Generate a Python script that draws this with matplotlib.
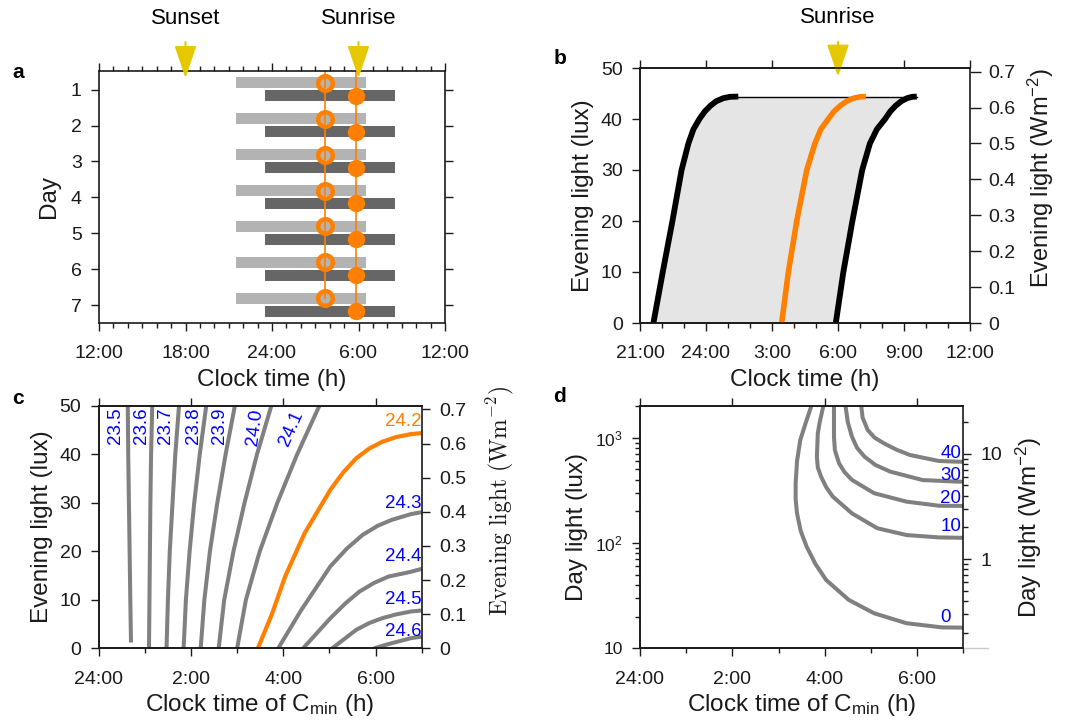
import numpy as np
import matplotlib
matplotlib.use('Agg')
import matplotlib.pyplot as plt
from matplotlib.ticker import MultipleLocator, FixedLocator, NullLocator, NullFormatter, FixedFormatter
import matplotlib.transforms as mtransforms

plt.rcParams['font.family'] = ['Liberation Sans', 'DejaVu Sans']
plt.rcParams['mathtext.fontset'] = 'custom'
plt.rcParams['mathtext.rm'] = 'Liberation Sans'
plt.rcParams['mathtext.it'] = 'Liberation Sans:italic'
plt.rcParams['mathtext.bf'] = 'Liberation Sans:bold'

ORANGE = '#ff7f00'
YELLOW = '#e5c800'
GRAY = '#808080'
BLUE = '#0000ff'
INK = '#1a1a1a'
LUX_PER_WM2 = 70.4
TICK_FS = 14
LABEL_FS = 17.5

# ---------------- Panel a data (clock hours, 24 = midnight) ----------------
days = [1, 2, 3, 4, 5, 6, 7]
light_sleep_start = [21.5, 21.5, 21.5, 21.5, 21.5, 21.5, 21.5]
light_sleep_end = [30.5, 30.5, 30.5, 30.5, 30.5, 30.5, 30.5]
dark_sleep_start = [23.5, 23.5, 23.5, 23.5, 23.5, 23.5, 23.5]
dark_sleep_end = [32.5, 32.5, 32.5, 32.5, 32.5, 32.5, 32.5]
cmin_open = [27.67, 27.67, 27.67, 27.67, 27.67, 27.67, 27.67]
cmin_filled = [29.8, 29.8, 29.8, 29.8, 29.8, 29.8, 29.8]
a_ticks = [12, 18, 24, 30, 36]
a_ticklabels = ['12:00', '18:00', '24:00', '6:00', '12:00']
sunset_a = 18
sunrise_a = 30

# ---------------- Panel b data ----------------
b_lux = [0, 9.9, 19.9, 30, 35.2, 38.0, 40, 41.5, 42.6, 43.5, 44.1, 44.35, 44.4]
b_early = [21.61, 22.03, 22.47, 22.89, 23.2, 23.43, 23.7, 23.95, 24.2, 24.47, 24.8, 25.1, 25.47]
b_mid = [27.44, 27.74, 28.12, 28.58, 28.95, 29.22, 29.56, 29.82, 30.1, 30.4, 30.72, 31.0, 31.27]
b_late = [29.9, 30.24, 30.65, 31.1, 31.45, 31.77, 32.14, 32.38, 32.62, 32.88, 33.15, 33.38, 33.58]
b_ticks = [21, 24, 27, 30, 33, 36]
b_ticklabels = ['21:00', '24:00', '3:00', '6:00', '9:00', '12:00']
sunrise_b = 30

# ---------------- Panel c data (hours after midnight, lux) ----------------
c_lux_std = [0, 10, 20, 30, 40, 50]
c_t_235 = [0.70, 0.685, 0.67, 0.655, 0.64, 0.63]
c_lux_235 = [1.2, 10, 20, 30, 40, 50]
c_t_236 = [1.09, 1.10, 1.11, 1.12, 1.135, 1.16]
c_t_237 = [1.47, 1.50, 1.54, 1.60, 1.66, 1.74]
c_t_238 = [1.84, 1.89, 1.97, 2.07, 2.19, 2.33]
c_t_239 = [2.21, 2.29, 2.41, 2.57, 2.75, 2.95]
c_t_240 = [2.60, 2.72, 2.92, 3.16, 3.43, 3.74]
c_t_241 = [3.00, 3.19, 3.49, 3.87, 4.30, 4.78]
c_t_242 = [3.45, 3.76, 4.04, 4.46, 5.02, 5.30, 5.58, 5.86, 6.14, 6.45, 6.77, 7.0]
c_lux_242 = [0, 7.2, 14.8, 23.7, 32.7, 36.3, 39.2, 41.2, 42.6, 43.6, 44.2, 44.4]
c_t_243 = [3.89, 4.39, 5.02, 5.38, 5.72, 6.05, 6.35, 6.77, 7.0]
c_lux_243 = [0, 7.9, 16.9, 20.6, 23.4, 25.3, 26.5, 27.7, 28.1]
c_t_244 = [4.43, 5.02, 5.35, 5.65, 5.97, 6.28, 6.77, 7.0]
c_lux_244 = [0, 6.2, 9.3, 11.7, 13.5, 14.8, 15.8, 16.4]
c_t_245 = [5.06, 5.58, 5.86, 6.14, 6.45, 6.77, 7.0]
c_lux_245 = [0, 3.8, 5.2, 6.2, 7.0, 7.6, 7.8]
c_t_246 = [5.97, 6.25, 6.49, 6.77, 7.0]
c_lux_246 = [0, 0.8, 1.4, 2.1, 2.4]
c_steep_labels = ['23.5', '23.6', '23.7', '23.8', '23.9', '24.0', '24.1']
c_steep_label_x = [0.37, 0.93, 1.45, 2.05, 2.61, 3.38, 4.18]
c_steep_label_y = [45.9, 45.9, 45.9, 45.9, 45.9, 45.6, 45.3]
c_steep_label_rot = [90, 90, 90, 90, 90, 83, 66]
c_flat_labels = ['24.3', '24.4', '24.5', '24.6']
c_flat_label_y = [29.9, 18.9, 10.0, 3.4]
c_orange_label = '24.2'
c_orange_label_y = 46.8
c_ticks = [0, 2, 4, 6]
c_ticklabels = ['24:00', '2:00', '4:00', '6:00']

# ---------------- Panel d data (hours after midnight, day lux) ----------------
d_t_0 = [3.71, 3.58, 3.47, 3.40, 3.37, 3.37, 3.40, 3.48, 3.61, 3.80, 4.03, 4.52, 5.07, 5.77, 6.54, 7.0]
d_lux_0 = [2000, 1350, 950, 600, 369, 260, 191, 130, 92, 63, 44.6, 28.8, 21.5, 17.3, 15.8, 15.7]
d_t_10 = [3.97, 3.89, 3.85, 3.83, 3.85, 3.92, 4.03, 4.17, 4.59, 5.14, 5.77, 6.47, 7.0]
d_lux_10 = [2000, 1400, 1100, 661, 520, 427, 340, 277, 191, 138, 119, 113, 112]
d_t_20 = [4.20, 4.20, 4.22, 4.31, 4.43, 4.59, 5.07, 5.77, 6.47, 7.0]
d_lux_20 = [2000, 1020, 760, 571, 470, 397, 297, 247, 226, 225]
d_t_30 = [4.45, 4.50, 4.59, 4.70, 4.86, 5.10, 5.42, 6.12, 6.85, 7.0]
d_lux_30 = [2000, 1400, 1020, 800, 661, 550, 476, 396, 383, 382]
d_t_40 = [4.79, 4.82, 4.93, 5.08, 5.28, 5.55, 5.84, 6.47, 6.85, 7.0]
d_lux_40 = [2000, 1550, 1183, 1000, 885, 770, 686, 601, 592, 591]
d_labels = ['0', '10', '20', '30', '40']
d_label_y = [19.7, 145, 266, 433, 711]

W, H = 1080, 725
fig = plt.figure(figsize=(W / 100, H / 100), dpi=100)


def box(l, t, r, b):
    return [l / W, 1 - b / H, (r - l) / W, (b - t) / H]


def style(ax, labelsize=TICK_FS):
    ax.tick_params(which='both', direction='out', colors=INK, labelsize=labelsize, width=1.0)
    ax.tick_params(which='major', length=6)
    ax.tick_params(which='minor', length=3.5)
    ax.tick_params(axis='x', which='major', pad=10)
    ax.tick_params(axis='y', which='major', pad=6.5)
    for s in ax.spines.values():
        s.set_linewidth(1.2)
        s.set_color(INK)


def arrow(ax, x, y_tip, y_tail):
    ax.annotate('', xy=(x, y_tip), xycoords=('data', 'axes fraction'),
                xytext=(x, y_tail), textcoords=('data', 'axes fraction'),
                arrowprops=dict(arrowstyle='-|>,head_length=1.0,head_width=0.34',
                                mutation_scale=20, color=YELLOW, lw=1.5,
                                shrinkA=0, shrinkB=0), annotation_clip=False)


# ================= Panel a =================
axa = fig.add_axes(box(99, 71, 445, 323))
d = np.array(days)
axa.barh(d - 0.19, np.array(light_sleep_end) - np.array(light_sleep_start),
         left=light_sleep_start, height=0.31, color='#b3b3b3', zorder=1)
axa.barh(d + 0.17, np.array(dark_sleep_end) - np.array(dark_sleep_start),
         left=dark_sleep_start, height=0.31, color='#666666', zorder=1)
axa.plot([cmin_open[0]] + cmin_open, [0.48] + list(d - 0.19), color=ORANGE, lw=1.2, zorder=2)
axa.plot([cmin_filled[0]] + cmin_filled, [0.48] + list(d + 0.17), color=ORANGE, lw=1.2, zorder=2)
axa.plot(cmin_open, d - 0.19, 'o', ms=10.5, mfc='none', mec=ORANGE, mew=3.2, zorder=3)
axa.plot(cmin_filled, d + 0.17, 'o', ms=12.5, mfc=ORANGE, mec=ORANGE, mew=0, zorder=3)
axa.set_xlim(12, 36)
axa.set_ylim(7.5, 0.48)
axa.set_xticks(a_ticks)
axa.set_xticklabels(a_ticklabels)
axa.xaxis.set_minor_locator(MultipleLocator(1))
axa.set_yticks(days)
axa.yaxis.set_minor_locator(NullLocator())
style(axa)
axa.tick_params(which='both', top=True, right=True, labeltop=False, labelright=False)
axa.set_xlabel('Clock time (h)', fontsize=LABEL_FS, color=INK, labelpad=5)
axa.set_ylabel('Day', fontsize=LABEL_FS, color=INK, labelpad=8)
arrow(axa, sunset_a, 0.972, 1.115)
arrow(axa, sunrise_a, 0.972, 1.115)
ta = mtransforms.blended_transform_factory(axa.transData, axa.transAxes)
axa.text(sunset_a, 1.21, 'Sunset', transform=ta, ha='center', va='center', fontsize=16, color='k')
axa.text(sunrise_a, 1.21, 'Sunrise', transform=ta, ha='center', va='center', fontsize=16, color='k')

# ================= Panel b =================
axb = fig.add_axes(box(640, 68, 970, 323))
axb.fill_betweenx(b_lux, b_early, b_late, color='#e5e5e5', lw=0, zorder=1)
axb.plot([b_early[-1], b_late[-1]], [b_lux[-1], b_lux[-1]], color='k', lw=1.0, zorder=2)
axb.plot(b_early, b_lux, color='k', lw=4.2, solid_capstyle='butt', solid_joinstyle='round', zorder=3)
axb.plot(b_late, b_lux, color='k', lw=4.2, solid_capstyle='butt', solid_joinstyle='round', zorder=3)
axb.plot(b_mid, b_lux, color=ORANGE, lw=4.0, solid_capstyle='butt', solid_joinstyle='round', zorder=3)
axb.set_xlim(21, 36)
axb.set_ylim(0, 50)
axb.set_xticks(b_ticks)
axb.set_xticklabels(b_ticklabels)
axb.xaxis.set_minor_locator(MultipleLocator(1))
axb.set_yticks([0, 10, 20, 30, 40, 50])
style(axb)
axb.tick_params(which='major', top=True, labeltop=False)
axb.tick_params(which='minor', top=False)
axb.spines['right'].set_visible(False)
axb.set_xlabel('Clock time (h)', fontsize=LABEL_FS, color=INK, labelpad=5)
axb.set_ylabel('Evening light (lux)', fontsize=LABEL_FS, color=INK, labelpad=5)
axb2 = axb.twinx()
axb2.set_ylim(0, 50 / LUX_PER_WM2)
axb2.set_yticks([0, 0.1, 0.2, 0.3, 0.4, 0.5, 0.6, 0.7])
axb2.set_yticklabels(['0', '0.1', '0.2', '0.3', '0.4', '0.5', '0.6', '0.7'])
style(axb2)
axb2.tick_params(length=8, pad=5)
axb2.set_ylabel('Evening light (Wm$^{-2}$)', fontsize=17, color=INK, labelpad=8)
axb2.yaxis.set_label_coords(1.17, 0.57)
arrow(axb, sunrise_b, 0.966, 1.103)
tb = mtransforms.blended_transform_factory(axb.transData, axb.transAxes)
axb.text(sunrise_b, 1.2, 'Sunrise', transform=tb, ha='center', va='center', fontsize=16, color='k')

# ================= Panel c =================
axc = fig.add_axes(box(98.7, 406, 421.7, 648.3))
steep = [(c_t_235, c_lux_235), (c_t_236, c_lux_std), (c_t_237, c_lux_std),
         (c_t_238, c_lux_std), (c_t_239, c_lux_std), (c_t_240, c_lux_std),
         (c_t_241, c_lux_std)]
for tt, ll in steep:
    axc.plot(tt, ll, color=GRAY, lw=2.9, solid_capstyle='butt')
for tt, ll in [(c_t_243, c_lux_243), (c_t_244, c_lux_244), (c_t_245, c_lux_245), (c_t_246, c_lux_246)]:
    axc.plot(tt, ll, color=GRAY, lw=2.9, solid_capstyle='butt')
axc.plot(c_t_242, c_lux_242, color=ORANGE, lw=3.0, solid_capstyle='butt')
for lab, x, y, r in zip(c_steep_labels, c_steep_label_x, c_steep_label_y, c_steep_label_rot):
    axc.text(x, y, lab, rotation=r, color=BLUE, fontsize=13.5, ha='center', va='center')
for lab, y in zip(c_flat_labels, c_flat_label_y):
    axc.text(6.2, y, lab, color=BLUE, fontsize=13.5, ha='left', va='center')
axc.text(6.2, c_orange_label_y, c_orange_label, color=ORANGE, fontsize=13.5, ha='left', va='center')
axc.set_xlim(0, 7)
axc.set_ylim(0, 50)
axc.set_xticks(c_ticks)
axc.set_xticklabels(c_ticklabels)
axc.xaxis.set_minor_locator(MultipleLocator(1))
axc.set_yticks([0, 10, 20, 30, 40, 50])
style(axc)
axc.tick_params(which='major', top=True, labeltop=False)
axc.tick_params(which='minor', top=False)
axc.spines['right'].set_visible(False)
axc.set_xlabel('Clock time of C$_{\\mathrm{min}}$ (h)', fontsize=LABEL_FS, color=INK, labelpad=3)
axc.set_ylabel('Evening light (lux)', fontsize=LABEL_FS, color=INK, labelpad=5)
axc2 = axc.twinx()
axc2.set_ylim(0, 50 / LUX_PER_WM2)
axc2.set_yticks([0, 0.1, 0.2, 0.3, 0.4, 0.5, 0.6, 0.7])
axc2.set_yticklabels(['0', '0.1', '0.2', '0.3', '0.4', '0.5', '0.6', '0.7'])
style(axc2)
axc2.set_ylabel(r'$\mathrm{Evening\ light\ (Wm^{-2})}$', fontsize=17, color=INK,
                math_fontfamily='cm')
axc2.yaxis.set_label_coords(1.195, 0.61)

# ================= Panel d =================
axd = fig.add_axes(box(640, 406, 963.3, 648.3))
for tt, ll in [(d_t_0, d_lux_0), (d_t_10, d_lux_10), (d_t_20, d_lux_20),
               (d_t_30, d_lux_30), (d_t_40, d_lux_40)]:
    axd.plot(tt, ll, color=GRAY, lw=2.9, solid_capstyle='butt', solid_joinstyle='round')
for lab, y in zip(d_labels, d_label_y):
    axd.text(6.5, y, lab, color=BLUE, fontsize=13.5, ha='left', va='center')
axd.set_yscale('log')
axd.set_xlim(0, 7)
axd.set_ylim(10, 2000)
axd.set_xticks(c_ticks)
axd.set_xticklabels(c_ticklabels)
axd.xaxis.set_minor_locator(MultipleLocator(1))
axd.yaxis.set_major_locator(FixedLocator([10, 100, 1000]))
axd.yaxis.set_major_formatter(FixedFormatter(['10', '10$^2$', '10$^3$']))
axd.yaxis.set_minor_formatter(NullFormatter())
style(axd)
axd.tick_params(axis='y', labelsize=12.5)
axd.tick_params(which='major', top=True, labeltop=False)
axd.tick_params(which='minor', top=False)
axd.spines['right'].set_visible(False)
axd.set_xlabel('Clock time of C$_{\\mathrm{min}}$ (h)', fontsize=LABEL_FS, color=INK, labelpad=3)
axd.set_ylabel('Day light (lux)', fontsize=LABEL_FS, color=INK, labelpad=5)
axd.plot([1, 1.075], [0, 0], transform=axd.transAxes, color='#cccccc', lw=1, clip_on=False)
axd2 = axd.twinx()
axd2.set_yscale('log')
axd2.set_ylim(10 / LUX_PER_WM2, 2000 / LUX_PER_WM2)
axd2.yaxis.set_major_locator(FixedLocator([1, 10]))
axd2.yaxis.set_major_formatter(FixedFormatter(['1', '10']))
axd2.yaxis.set_minor_formatter(NullFormatter())
style(axd2)
axd2.set_ylabel('Day light (Wm$^{-2}$)', fontsize=LABEL_FS, color=INK, labelpad=8)

# panel letters
for lab, x, y in [('a', 18, 73), ('b', 560, 59), ('c', 18, 398), ('d', 560, 397)]:
    fig.text(x / W, 1 - y / H, lab, fontsize=15, fontweight='bold', ha='center', va='center')

fig.savefig('out.png', dpi=100)
